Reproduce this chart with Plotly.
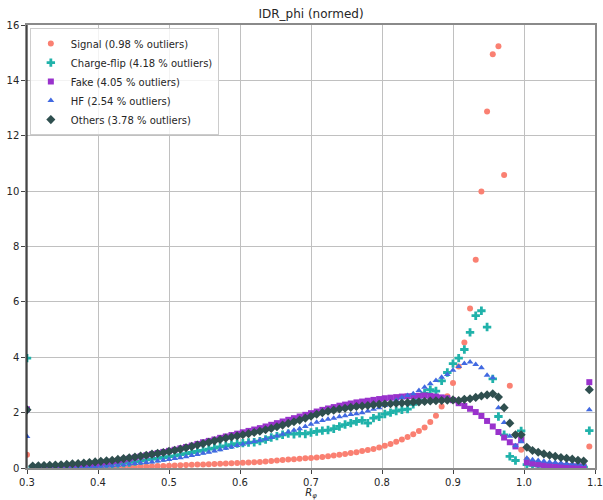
import numpy as np
import plotly.graph_objects as go

# bin left edges: 0.3 .. 1.092 step 0.008 (100 bins); first/last bins hold outliers
x_start, x_step, n_bins = 0.3, 0.008, 100
x_vals = [round(x_start + x_step * i, 4) for i in range(n_bins)]

signal = [0.48,
          0.005, 0.005, 0.006, 0.007, 0.008, 0.009, 0.01, 0.012, 0.014, 0.016,
          0.018, 0.02, 0.023, 0.026, 0.03, 0.034, 0.038, 0.043, 0.048, 0.053,
          0.058, 0.064, 0.07, 0.076, 0.083, 0.09, 0.098, 0.106, 0.114, 0.122,
          0.13, 0.139, 0.148, 0.157, 0.166, 0.175, 0.184, 0.193, 0.2, 0.207,
          0.22, 0.235, 0.25, 0.27, 0.29, 0.31, 0.32, 0.335, 0.35, 0.365,
          0.38, 0.4, 0.42, 0.45, 0.48, 0.51, 0.54, 0.57, 0.61, 0.65,
          0.69, 0.74, 0.8, 0.87, 0.95, 1.03, 1.12, 1.22, 1.34, 1.46,
          1.66, 1.89, 2.22, 2.59, 3.07, 3.67, 4.53, 5.76, 7.52, 9.99,
          12.88, 14.94, 15.23, 10.58, 2.97, 1.2, 0.66, 0.3, 0.18, 0.12,
          0.1, 0.09, 0.08, 0.07, 0.07, 0.06, 0.06, 0.05, 0.78]

charge_flip = [3.97,
               0.03, 0.03, 0.03, 0.04, 0.04, 0.05, 0.05, 0.06, 0.07, 0.08,
               0.09, 0.1, 0.11, 0.12, 0.14, 0.16, 0.18, 0.2, 0.23, 0.26,
               0.29, 0.32, 0.35, 0.38, 0.41, 0.44, 0.48, 0.52, 0.56, 0.6,
               0.64, 0.68, 0.72, 0.76, 0.8, 0.84, 0.88, 0.9, 0.92, 0.93,
               0.97, 1.03, 1.1, 1.15, 1.2, 1.24, 1.22, 1.25, 1.23, 1.28,
               1.32, 1.35, 1.37, 1.42, 1.5, 1.57, 1.62, 1.68, 1.72, 1.62,
               1.8, 1.85, 1.95, 2.0, 2.06, 2.1, 2.13, 2.3, 2.45, 2.7,
               2.83, 2.78, 3.15, 3.45, 3.77, 3.97, 4.28, 4.9, 5.5, 5.68,
               5.09, 3.22, 1.86, 1.2, 0.42, 0.27, 1.34, 0.12, 0.1, 0.08,
               0.07, 0.06, 0.05, 0.05, 0.04, 0.04, 0.03, 0.03, 1.35]

fake = [2.12,
        0.01, 0.01, 0.02, 0.02, 0.03, 0.04, 0.05, 0.06, 0.08, 0.1,
        0.12, 0.14, 0.17, 0.2, 0.23, 0.26, 0.3, 0.34, 0.38, 0.42,
        0.46, 0.5, 0.54, 0.58, 0.62, 0.66, 0.71, 0.76, 0.81, 0.87,
        0.93, 0.98, 1.03, 1.09, 1.14, 1.19, 1.24, 1.29, 1.34, 1.39,
        1.44, 1.5, 1.56, 1.62, 1.68, 1.74, 1.8, 1.86, 1.92, 1.98,
        2.04, 2.1, 2.15, 2.2, 2.25, 2.29, 2.33, 2.37, 2.4, 2.43,
        2.46, 2.49, 2.52, 2.54, 2.56, 2.58, 2.59, 2.6, 2.61, 2.62,
        2.6, 2.58, 2.55, 2.52, 2.45, 2.34, 2.24, 2.14, 2.02, 1.88,
        1.7, 1.5, 1.3, 1.1, 0.93, 0.78, 1.02, 0.2, 0.16, 0.13,
        0.11, 0.1, 0.09, 0.08, 0.07, 0.06, 0.06, 0.05, 3.1]

hf = [1.14,
      0.005, 0.005, 0.01, 0.01, 0.01, 0.015, 0.02, 0.02, 0.025, 0.03,
      0.04, 0.05, 0.06, 0.07, 0.08, 0.1, 0.12, 0.14, 0.16, 0.18,
      0.2, 0.22, 0.25, 0.28, 0.31, 0.34, 0.37, 0.41, 0.45, 0.49,
      0.53, 0.57, 0.61, 0.66, 0.71, 0.76, 0.81, 0.86, 0.91, 0.96,
      1.0, 1.05, 1.1, 1.16, 1.22, 1.3, 1.36, 1.42, 1.5, 1.58,
      1.65, 1.72, 1.76, 1.8, 1.85, 1.89, 1.93, 1.96, 2.0, 2.06,
      2.12, 2.18, 2.26, 2.35, 2.45, 2.55, 2.62, 2.68, 2.8, 2.92,
      3.04, 3.16, 3.28, 3.38, 3.53, 3.67, 3.77, 3.83, 3.74, 3.62,
      3.35, 3.26, 2.18, 1.64, 1.15, 0.8, 0.95, 0.35, 0.3, 0.27,
      0.24, 0.22, 0.2, 0.18, 0.16, 0.15, 0.14, 0.13, 2.1]

others = [2.1,
          0.07, 0.08, 0.09, 0.1, 0.11, 0.12, 0.13, 0.15, 0.16, 0.18,
          0.2, 0.22, 0.24, 0.26, 0.28, 0.31, 0.34, 0.37, 0.4, 0.43,
          0.46, 0.5, 0.53, 0.56, 0.6, 0.64, 0.68, 0.73, 0.78, 0.83,
          0.88, 0.93, 0.98, 1.03, 1.08, 1.12, 1.16, 1.2, 1.24, 1.28,
          1.33, 1.38, 1.43, 1.49, 1.55, 1.61, 1.67, 1.73, 1.8, 1.87,
          1.94, 2.0, 2.05, 2.09, 2.13, 2.16, 2.19, 2.22, 2.24, 2.26,
          2.28, 2.3, 2.31, 2.32, 2.34, 2.35, 2.36, 2.38, 2.39, 2.4,
          2.42, 2.43, 2.44, 2.45, 2.46, 2.44, 2.48, 2.5, 2.55, 2.6,
          2.64, 2.68, 2.56, 2.18, 1.62, 1.2, 1.2, 0.75, 0.63, 0.57,
          0.51, 0.46, 0.42, 0.38, 0.35, 0.32, 0.28, 0.25, 2.83]

series_names = ["Signal (0.98 % outliers)", "Charge-flip (4.18 % outliers)",
                "Fake (4.05 % outliers)", "HF (2.54 % outliers)",
                "Others (3.78 % outliers)"]
series_values = [signal, charge_flip, fake, hf, others]
series_colors = ["#FA8072", "#20B2AA", "#9932CC", "#4169E1", "#2F4F4F"]
series_symbols = ["circle", "cross", "square", "triangle-up", "diamond"]
series_sizes = [6, 7, 6, 6, 7]

x_ticks = [0.3, 0.4, 0.5, 0.6, 0.7, 0.8, 0.9, 1.0, 1.1]
x_ticklabels = ["0.3", "0.4", "0.5", "0.6", "0.7", "0.8", "0.9", "1.0", "1.1"]
y_ticks = [0, 2, 4, 6, 8, 10, 12, 14, 16]

FONT = "DejaVu Sans"
FIG_W, FIG_H = 603, 500

fig = go.Figure()
for name, vals, col, sym, sz in zip(series_names, series_values, series_colors,
                                    series_symbols, series_sizes):
    fig.add_trace(go.Scatter(
        x=x_vals, y=vals, mode="markers", name=name,
        marker=dict(color=col, symbol=sym, size=sz, line=dict(width=0)),
    ))

fig.update_layout(
    width=FIG_W, height=FIG_H,
    margin=dict(l=27, r=8, t=25, b=32, autoexpand=False),
    paper_bgcolor="white", plot_bgcolor="white",
    font=dict(family=FONT, size=10, color="#262626"),
    title=dict(text="IDR_phi (normed)", x=0.5, xref="paper", xanchor="center",
               y=1 - 14 / FIG_H, yanchor="middle", yref="container",
               font=dict(size=12, color="#262626")),
    legend=dict(x=0.005, y=0.993, xanchor="left", yanchor="top",
                bgcolor="rgba(255,255,255,0.8)", bordercolor="#cccccc",
                borderwidth=1, font=dict(size=10, family=FONT),
                itemsizing="trace"),
    showlegend=True,
)
fig.update_xaxes(
    range=[0.3, 1.1], tickvals=x_ticks, ticktext=x_ticklabels,
    showgrid=True, gridcolor="#c0c0c0", gridwidth=1,
    zeroline=False, showline=True, linecolor="#8a8a8a", linewidth=1.5,
    mirror=True, ticks="outside", ticklen=4, tickcolor="#444",
    ticklabeloverflow="allow",
    title=dict(text="<i>R</i><sub><i>φ</i></sub>", standoff=2,
               font=dict(size=10)),
    automargin=False,
)
fig.update_yaxes(
    range=[0, 16], tickvals=y_ticks,
    showgrid=True, gridcolor="#c0c0c0", gridwidth=1,
    zeroline=False, showline=True, linecolor="#8a8a8a", linewidth=1.5,
    mirror=True, ticks="outside", ticklen=4, tickcolor="#444",
    ticklabeloverflow="allow",
    automargin=False,
)
# darker left spine as in the reference
fig.add_shape(type="line", xref="paper", yref="paper", x0=0, x1=0, y0=0, y1=1,
              line=dict(color="black", width=1))

fig.write_html("out.html",
               config={"displayModeBar": False},
               post_script="document.body.style.margin='0';"
                           "document.body.style.overflow='hidden';")
